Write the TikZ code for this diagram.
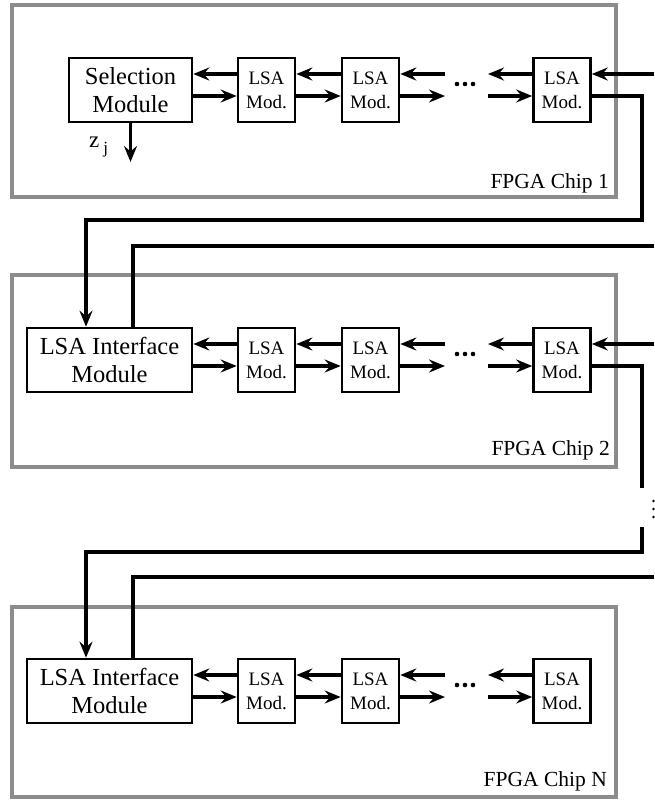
\documentclass[tikz,border=0pt]{standalone}
\usepackage{fontspec}
\setmainfont{Liberation Serif}
\newfontfamily\boxfont{Liberation Serif}
\usetikzlibrary{arrows.meta}
\definecolor{chipgray}{RGB}{140,140,140}
\tikzset{
  chip/.style={draw=chipgray,line width=4.5pt},
  chiplabel/.style={anchor=base east,inner sep=0pt,font=\boxfont\fontsize{21.5}{24}\selectfont},
  bigbox/.style={draw,line width=2.6pt,minimum width=165pt,minimum height=64pt,
    align=center,inner sep=0pt,font=\boxfont\fontsize{24.5}{28}\selectfont},
  modbox/.style={draw,line width=2.6pt,minimum width=57pt,minimum height=64pt,
    align=center,inner sep=0pt,font=\boxfont\fontsize{19}{24}\selectfont},
  wire/.style={line width=3.4pt},
  arr/.style={wire,-{Stealth[length=16pt,width=13pt,inset=5.5pt]}},
  dotmark/.style={fill,circle,inner sep=0pt,minimum size=4.6pt},
  edgedot/.style={fill,circle,inner sep=0pt,minimum size=2.8pt},
}
\begin{document}
\begin{tikzpicture}[x=1pt,y=-1pt]
\useasboundingbox (0,0) rectangle (654,801);

% chip outlines
\draw[chip] (12,5) rectangle (616,197);
\draw[chip] (12,275) rectangle (616,467);
\draw[chip] (12,607) rectangle (616,797);
\node[chiplabel] (l1) at (609,188) {FPGA Chip 1};
\node[chiplabel] (l2) at (610,455) {FPGA Chip 2};
\node[chiplabel] (l3) at (607,786) {FPGA Chip N};

% ---------- chip 1 ----------
\node[bigbox,minimum width=123pt] (sel) at (130.5,90) {Selection\\Module};
\node[modbox] (a1) at (266.5,90) {LSA\\Mod.};
\node[modbox] (a2) at (370.5,90) {LSA\\Mod.};
\node[modbox] (a3) at (562,90) {LSA\\Mod.};
\coordinate (ag1) at (445,90);
\coordinate (ag2) at (488,90);
\node[dotmark] (ad1) at (457,84) {};
\node[dotmark] (ad2) at (465,84) {};
\node[dotmark] (ad3) at (473,84) {};

\draw[arr] ([yshift=16pt]a1.west) -- ([yshift=16pt]sel.east);
\draw[arr] ([yshift=-6pt]sel.east) -- ([yshift=-6pt]a1.west);
\draw[arr] ([yshift=16pt]a2.west) -- ([yshift=16pt]a1.east);
\draw[arr] ([yshift=-6pt]a1.east) -- ([yshift=-6pt]a2.west);
\draw[arr] ([yshift=16pt]ag1) -- ([yshift=16pt]a2.east);
\draw[arr] ([yshift=-6pt]a2.east) -- ([yshift=-6pt]ag1);
\draw[arr] ([yshift=16pt]a3.west) -- ([yshift=16pt]ag2);
\draw[arr] ([yshift=-6pt]ag2) -- ([yshift=-6pt]a3.west);

\coordinate (zout) at (130.5,162);
\draw[arr] (sel.south) -- (zout);
\node[anchor=base west,inner sep=0pt,font=\boxfont\fontsize{23}{23}\selectfont] (zj) at (89,147)
  {z\hspace{4pt}\raisebox{-6pt}{\fontsize{17}{17}\selectfont j}};

\coordinate (in1) at (654,74);
\draw[arr] (in1) -- (a3.east |- in1);

% ---------- chip 2 ----------
\node[bigbox] (b0) at (109.5,360) {LSA Interface\\Module};
\node[modbox] (b1) at (266.5,360) {LSA\\Mod.};
\node[modbox] (b2) at (370.5,360) {LSA\\Mod.};
\node[modbox] (b3) at (562,360) {LSA\\Mod.};
\coordinate (bg1) at (445,360);
\coordinate (bg2) at (488,360);
\node[dotmark] (bd1) at (457,354) {};
\node[dotmark] (bd2) at (465,354) {};
\node[dotmark] (bd3) at (473,354) {};

\draw[arr] ([yshift=16pt]b1.west) -- ([yshift=16pt]b0.east);
\draw[arr] ([yshift=-6pt]b0.east) -- ([yshift=-6pt]b1.west);
\draw[arr] ([yshift=16pt]b2.west) -- ([yshift=16pt]b1.east);
\draw[arr] ([yshift=-6pt]b1.east) -- ([yshift=-6pt]b2.west);
\draw[arr] ([yshift=16pt]bg1) -- ([yshift=16pt]b2.east);
\draw[arr] ([yshift=-6pt]b2.east) -- ([yshift=-6pt]bg1);
\draw[arr] ([yshift=16pt]b3.west) -- ([yshift=16pt]bg2);
\draw[arr] ([yshift=-6pt]bg2) -- ([yshift=-6pt]b3.west);

\coordinate (in2) at (654,344);
\draw[arr] (in2) -- (b3.east |- in2);

% link chip 1 -> chip 2
\coordinate (t1) at (642,220);
\coordinate (r2) at (654,246);
\draw[arr] ([yshift=-6pt]a3.east) -| (t1) -| ([xshift=-23.5pt]b0.north);
\draw[wire] ([xshift=23.5pt]b0.north) |- (r2);

% link chip 2 -> further chips
\coordinate (cut2) at (642,488);
\draw[wire] ([yshift=-6pt]b3.east) -| (cut2);
\node[edgedot] (e1) at (653.5,501) {};
\node[edgedot] (e2) at (653.5,509) {};
\node[edgedot] (e3) at (653.5,517) {};

% ---------- chip N ----------
\node[bigbox] (c0) at (109.5,691) {LSA Interface\\Module};
\node[modbox] (c1) at (266.5,691) {LSA\\Mod.};
\node[modbox] (c2) at (370.5,691) {LSA\\Mod.};
\node[modbox] (c3) at (562,691) {LSA\\Mod.};
\coordinate (cg1) at (445,691);
\coordinate (cg2) at (488,691);
\node[dotmark] (cd1) at (457,685) {};
\node[dotmark] (cd2) at (465,685) {};
\node[dotmark] (cd3) at (473,685) {};

\draw[arr] ([yshift=16pt]c1.west) -- ([yshift=16pt]c0.east);
\draw[arr] ([yshift=-6pt]c0.east) -- ([yshift=-6pt]c1.west);
\draw[arr] ([yshift=16pt]c2.west) -- ([yshift=16pt]c1.east);
\draw[arr] ([yshift=-6pt]c1.east) -- ([yshift=-6pt]c2.west);
\draw[arr] ([yshift=16pt]cg1) -- ([yshift=16pt]c2.east);
\draw[arr] ([yshift=-6pt]c2.east) -- ([yshift=-6pt]cg1);
\draw[arr] ([yshift=16pt]c3.west) -- ([yshift=16pt]cg2);
\draw[arr] ([yshift=-6pt]cg2) -- ([yshift=-6pt]c3.west);

% link into chip N
\coordinate (res) at (642,527);
\coordinate (t3) at (642,552);
\coordinate (r3) at (654,577);
\draw[arr] (res) -- (t3) -| ([xshift=-23.5pt]c0.north);
\draw[wire] ([xshift=23.5pt]c0.north) |- (r3);
\end{tikzpicture}
\end{document}
